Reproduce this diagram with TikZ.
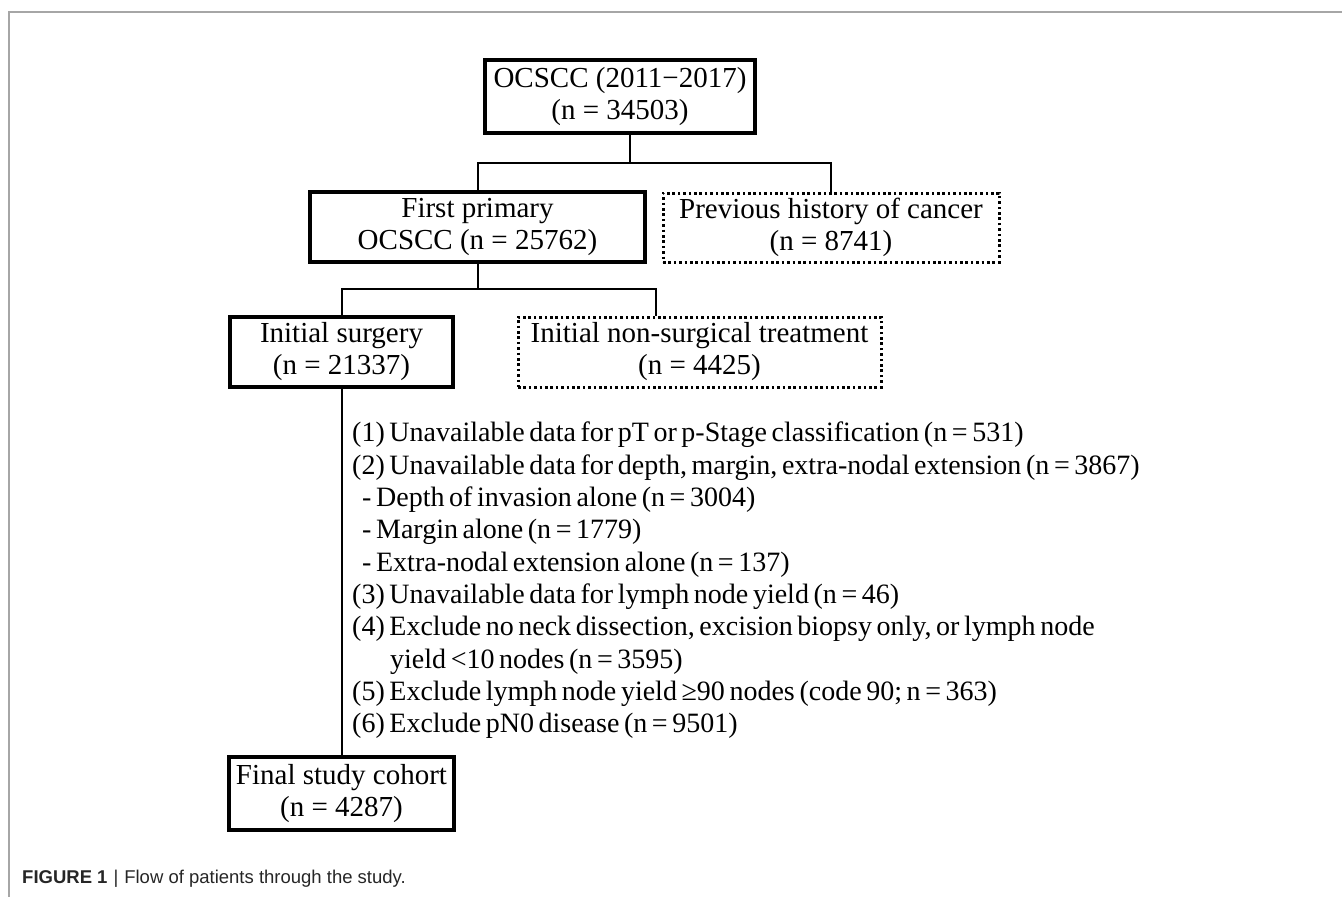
\documentclass[tikz,border=0pt]{standalone}
\usepackage{fontspec}
\setmainfont{Liberation Serif}
\newfontfamily\capfont{Liberation Sans}
\newcommand{\tightspaces}{\spaceskip=4.6pt plus 1pt minus 1pt\relax}

\begin{document}
\begin{tikzpicture}[x=1pt, y=-1pt]

\tikzstyle{connector} = [draw, line width=2pt]
\tikzstyle{cohort} = [rectangle, draw, line width=3.2pt, align=center, inner sep=0pt, font=\fontsize{29}{32}\selectfont]
\tikzstyle{excluded} = [cohort, line width=3pt, dash pattern=on 2.6pt off 2.8pt]
\tikzstyle{criteria} = [align=left, inner sep=0pt, anchor=north west, font=\fontsize{28}{32.3}\selectfont]
\tikzstyle{frame} = [draw=black!35, line width=1.3pt]

\useasboundingbox (0,0) rectangle (1342,897);
\path [frame] (9,897) -- (9,12) -- (1342,12);

\node at (620,96.5) [cohort, minimum width=270pt, minimum height=73pt] (all) {OCSCC (2011−2017)\\(n = 34503)};
\node at (477.5,227) [cohort, minimum width=335pt, minimum height=70pt] (first) {First primary\\OCSCC (n = 25762)};
\node at (831,227.5) [excluded, minimum width=336pt, minimum height=69pt] (history) {Previous history of cancer\\(n = 8741)};
\node at (341.5,352) [cohort, minimum width=223pt, minimum height=70pt] (surgery) {Initial surgery\\(n = 21337)};
\node at (699.5,352) [excluded, minimum width=363pt, minimum height=70pt] (nonsurg) {Initial non-surgical treatment\\(n = 4425)};
\node at (341.5,793.5) [cohort, minimum width=225pt, minimum height=73pt] (final) {Final study cohort\\(n = 4287)};

\node at (352,422) [criteria] (reasons) {\tightspaces(1) Unavailable data for pT or p-Stage classification (n = 531)\\
\tightspaces(2) Unavailable data for depth, margin, extra-nodal extension (n = 3867)\\
\tightspaces\hspace{10pt}- Depth of invasion alone (n = 3004)\\
\tightspaces\hspace{10pt}- Margin alone (n = 1779)\\
\tightspaces\hspace{10pt}- Extra-nodal extension alone (n = 137)\\
\tightspaces(3) Unavailable data for lymph node yield (n = 46)\\
\tightspaces(4) Exclude no neck dissection, excision biopsy only, or lymph node\\
\tightspaces\hspace{38pt}yield <10 nodes (n = 3595)\\
\tightspaces(5) Exclude lymph node yield ≥90 nodes (code 90; n = 363)\\
\tightspaces(6) Exclude pN0 disease (n = 9501)};

\node at (22,879) [anchor=west, inner sep=0pt, font=\capfont\fontsize{18.5}{21}\selectfont, text=black!85] (caption) {\textbf{FIGURE 1}\hspace{6pt}|\hspace{6pt}Flow of patients through the study.};

\coordinate (fork1) at (630,163);
\coordinate (fork2) at (477.5,289);
\coordinate (fork2r) at (656,289);

\path [connector] (all.south -| fork1) -- (fork1);
\path [connector] (fork1) -| (first.north);
\path [connector] (fork1) -| (history.north);
\path [connector] (first.south) -- (fork2);
\path [connector] (fork2) -| (surgery.north);
\path [connector] (fork2) -- (fork2r) -- (fork2r |- nonsurg.north);
\path [connector] (surgery) -- (final);

\end{tikzpicture}
\end{document}
